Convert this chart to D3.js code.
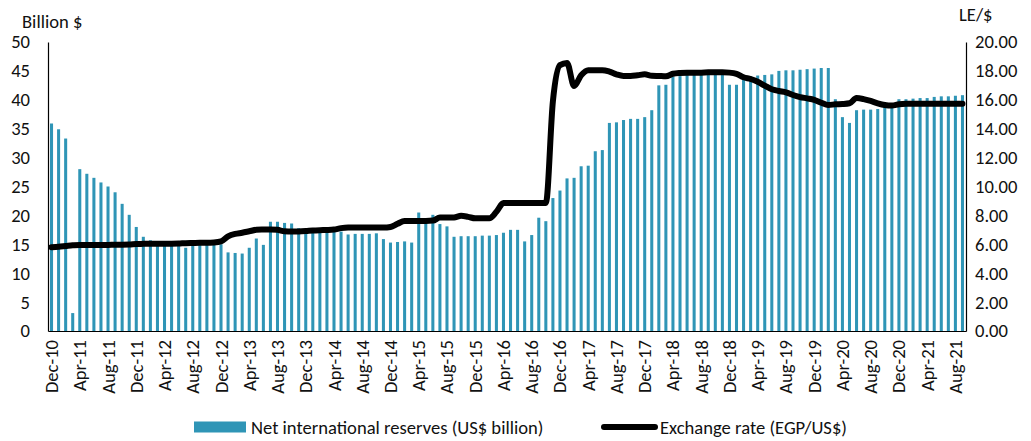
<!DOCTYPE html>
<html>
<head>
<meta charset="utf-8">
<script src="https://cdn.jsdelivr.net/npm/d3@7"></script>
<style>
  html, body { margin: 0; padding: 0; background: #fff; }
  svg { display: block; font-family: Carlito, "Open Sans", "Liberation Sans", sans-serif; }
</style>
</head>
<body>
<svg id="chart" width="1031" height="441"></svg>
<script>
// Monthly categories, Dec-10 .. Sep-21
const months = d3.timeMonths(new Date(2010, 11, 1), new Date(2021, 9, 1)).map(d3.timeFormat("%b-%y"));

// Net international reserves, US$ billion
const reserves = [
  35.9, 34.9, 33.3, 3.1, 28.0, 27.2, 26.5, 25.7, 25.0, 24.0, 22.0, 20.1,
  18.0, 16.3, 15.7, 15.1, 15.2, 15.5, 15.5, 14.4, 15.1, 15.0, 15.4, 15.0,
  15.0, 13.6, 13.5, 13.4, 14.4, 16.0, 14.9, 18.9, 18.9, 18.7, 18.6, 17.8,
  17.0, 17.1, 17.3, 17.4, 17.4, 17.2, 16.7, 16.8, 16.8, 16.8, 16.9, 15.9,
  15.3, 15.4, 15.5, 15.3, 20.5, 19.5, 20.1, 18.5, 18.1, 16.3, 16.4, 16.4,
  16.4, 16.5, 16.5, 16.6, 17.0, 17.5, 17.5, 15.5, 16.6, 19.6, 19.0, 23.0,
  24.3, 26.4, 26.5, 28.5, 28.6, 31.1, 31.3, 36.0, 36.1, 36.5, 36.7, 36.7,
  37.0, 38.2, 42.5, 42.6, 44.0, 44.1, 44.3, 44.3, 44.4, 44.5, 44.5, 44.5,
  42.6, 42.6, 44.1, 44.1, 44.2, 44.3, 44.4, 45.0, 45.1, 45.1, 45.2, 45.3,
  45.4, 45.5, 45.5, 40.1, 37.0, 36.0, 38.2, 38.3, 38.3, 38.4, 39.2, 39.2,
  40.1, 40.1, 40.2, 40.3, 40.3, 40.5, 40.6, 40.6, 40.7, 40.8
];

// Exchange rate, EGP per US$
const exchangeRate = [
  5.79, 5.83, 5.88, 5.93, 5.96, 5.95, 5.96, 5.96, 5.96, 5.97, 5.97, 5.98,
  6.02, 6.03, 6.04, 6.04, 6.04, 6.04, 6.05, 6.08, 6.09, 6.10, 6.10, 6.12,
  6.20, 6.55, 6.72, 6.80, 6.90, 7.00, 7.02, 7.03, 7.00, 6.90, 6.88, 6.89,
  6.92, 6.96, 6.98, 6.99, 7.02, 7.12, 7.16, 7.16, 7.16, 7.16, 7.16, 7.16,
  7.20, 7.42, 7.61, 7.62, 7.62, 7.62, 7.64, 7.85, 7.85, 7.86, 7.97, 7.90,
  7.80, 7.80, 7.80, 8.25, 8.85, 8.85, 8.85, 8.85, 8.85, 8.85, 8.85, 15.90,
  18.40, 18.55, 16.95, 17.70, 18.05, 18.05, 18.05, 17.95, 17.76, 17.65, 17.65, 17.70,
  17.76, 17.67, 17.65, 17.63, 17.80, 17.86, 17.88, 17.88, 17.88, 17.90, 17.90, 17.90,
  17.88, 17.80, 17.56, 17.44, 17.25, 16.98, 16.73, 16.61, 16.52, 16.33, 16.19, 16.10,
  16.00, 15.80, 15.64, 15.69, 15.71, 15.76, 16.12, 16.05, 15.92, 15.76, 15.64, 15.60,
  15.69, 15.72, 15.72, 15.72, 15.72, 15.72, 15.72, 15.72, 15.72, 15.72
];

const xTickLabels = [
  "Dec-10", "Apr-11", "Aug-11", "Dec-11", "Apr-12", "Aug-12", "Dec-12", "Apr-13", "Aug-13",
  "Dec-13", "Apr-14", "Aug-14", "Dec-14", "Apr-15", "Aug-15", "Dec-15", "Apr-16", "Aug-16",
  "Dec-16", "Apr-17", "Aug-17", "Dec-17", "Apr-18", "Aug-18", "Dec-18", "Apr-19", "Aug-19",
  "Dec-19", "Apr-20", "Aug-20", "Dec-20", "Apr-21", "Aug-21"
];
const leftTicks = [0, 5, 10, 15, 20, 25, 30, 35, 40, 45, 50];
const rightTicks = [0, 2, 4, 6, 8, 10, 12, 14, 16, 18, 20];

const seriesNames = ["Net international reserves (US$ billion)", "Exchange rate (EGP/US$)"];

const barColor = "#2f95b6";
const lineColor = "#000";
const textColor = "#111";
const fontSize = 18.6;
const fontFamily = "Carlito, 'Open Sans', 'Liberation Sans', sans-serif";

const plot = { left: 48, right: 966, top: 42, bottom: 331 };

const svg = d3.select("#chart");

const x = d3.scaleBand()
  .domain(months)
  .range([plot.left, plot.right])
  .paddingInner(0.57)
  .paddingOuter(0.285);

const yLeft = d3.scaleLinear().domain([0, 50]).range([plot.bottom, plot.top]);
const yRight = d3.scaleLinear().domain([0, 20]).range([plot.bottom, plot.top]);

const rows = months.map((m, i) => ({ month: m, reserves: reserves[i], rate: exchangeRate[i] }));

// Bars: reserves on the left axis
svg.append("g")
  .selectAll("rect")
  .data(rows)
  .join("rect")
  .attr("x", d => x(d.month))
  .attr("width", x.bandwidth())
  .attr("y", d => yLeft(d.reserves))
  .attr("height", d => yLeft(0) - yLeft(d.reserves))
  .attr("fill", barColor);

// Line: exchange rate on the right axis
const line = d3.line()
  .x(d => x(d.month) + x.bandwidth() / 2)
  .y(d => yRight(d.rate))
  .curve(d3.curveMonotoneX);

svg.append("path")
  .datum(rows)
  .attr("d", line)
  .attr("fill", "none")
  .attr("stroke", lineColor)
  .attr("stroke-width", 6)
  .attr("stroke-linejoin", "round")
  .attr("stroke-linecap", "round");

// Axes
const leftAxis = d3.axisLeft(yLeft).tickValues(leftTicks).tickSize(0).tickPadding(18);
const rightAxis = d3.axisRight(yRight).tickValues(rightTicks).tickSize(0).tickPadding(9)
  .tickFormat(d3.format(".2f"));
const bottomAxis = d3.axisBottom(x).tickValues(xTickLabels).tickSize(0).tickPadding(0);

function styleAxis(g) {
  g.select(".domain").attr("stroke", "#000").attr("stroke-width", 1.2);
  g.selectAll("text").attr("fill", textColor).style("font-size", fontSize + "px")
    .style("font-family", fontFamily);
}

svg.append("g")
  .attr("transform", `translate(${plot.left},0)`)
  .call(leftAxis)
  .call(styleAxis);

svg.append("g")
  .attr("transform", `translate(${plot.right},0)`)
  .call(rightAxis)
  .call(styleAxis);

const gx = svg.append("g")
  .attr("transform", `translate(0,${plot.bottom})`)
  .call(bottomAxis)
  .call(styleAxis);

gx.selectAll(".tick text")
  .attr("transform", "translate(0,9) rotate(-90)")
  .attr("text-anchor", "end")
  .attr("x", 0)
  .attr("y", 0)
  .attr("dy", "0.35em");

// Axis titles
svg.append("text")
  .attr("x", 22).attr("y", 28)
  .attr("fill", textColor)
  .style("font-size", fontSize + "px")
  .text("Billion $");

svg.append("text")
  .attr("x", 959).attr("y", 21)
  .attr("fill", textColor)
  .style("font-size", fontSize + "px")
  .text("LE/$");

// Legend
const legend = svg.append("g");
legend.append("rect")
  .attr("x", 194).attr("y", 421.5)
  .attr("width", 52).attr("height", 11)
  .attr("fill", barColor);
legend.append("text")
  .attr("x", 251).attr("y", 433.5)
  .attr("fill", textColor)
  .style("font-size", fontSize + "px")
  .text(seriesNames[0]);

legend.append("line")
  .attr("x1", 604).attr("x2", 655)
  .attr("y1", 427).attr("y2", 427)
  .attr("stroke", lineColor)
  .attr("stroke-width", 6)
  .attr("stroke-linecap", "round");
legend.append("text")
  .attr("x", 660).attr("y", 433.5)
  .attr("fill", textColor)
  .style("font-size", fontSize + "px")
  .text(seriesNames[1]);
</script>
</body>
</html>
